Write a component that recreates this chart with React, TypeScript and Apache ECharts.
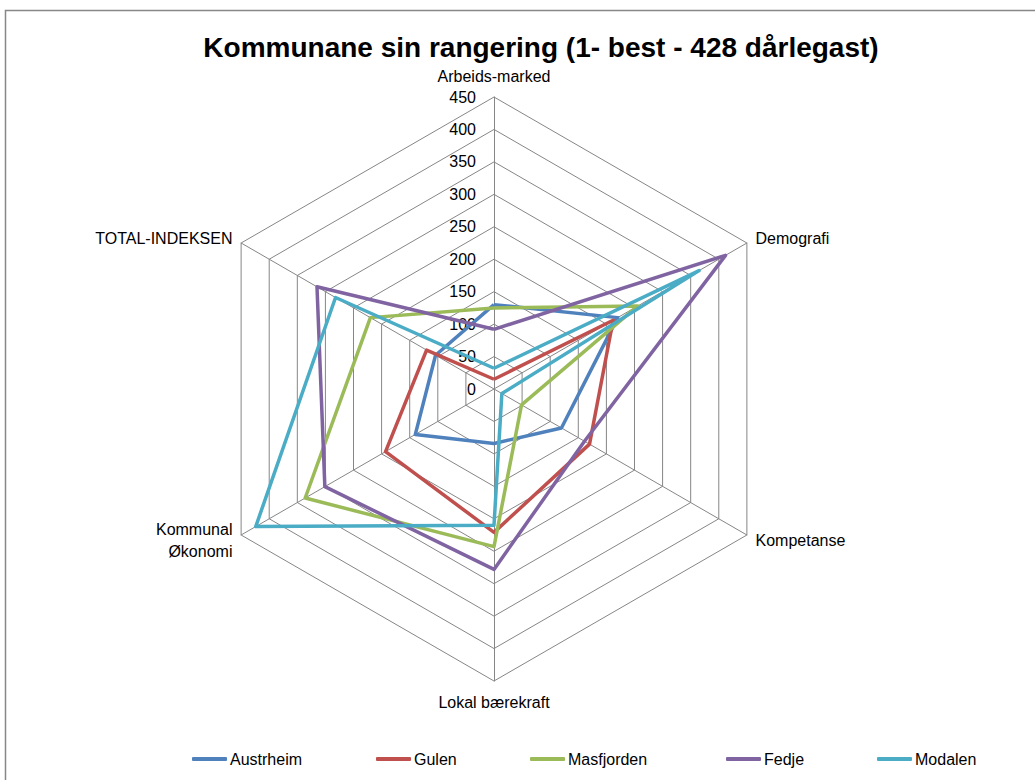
import React, { useEffect, useRef } from "react";
import * as echarts from "echarts";

// Reference (clockwise from top) order of the axes
const indicators = [
  "Arbeids-marked",
  "Demografi",
  "Kompetanse",
  "Lokal bærekraft",
  "Kommunal\nØkonomi",
  "TOTAL-INDEKSEN",
];
const axisMax = 450;
const splitCount = 9;

const seriesNames = ["Austrheim", "Gulen", "Masfjorden", "Fedje", "Modalen"];
const austrheim = [130, 220, 120, 84, 140, 104];
const gulen = [15, 212, 170, 221, 193, 120];
const masfjorden = [125, 256, 49, 243, 336, 220];
const fedje = [92, 412, 161, 278, 301, 315];
const modalen = [32, 365, 14, 210, 424, 282];
const seriesValues = [austrheim, gulen, masfjorden, fedje, modalen];
const colors = ["#4F81BD", "#C0504D", "#9BBB59", "#8064A2", "#4BACC6"];
const legendLefts = [192, 376, 530, 726, 877];

// ECharts lays radar indicators out counter-clockwise; map to that order
const ccwOrder = [0, 5, 4, 3, 2, 1];

const FONT = "'Liberation Sans', Arial, sans-serif";

export default function App() {
  const ref = useRef<HTMLDivElement>(null);
  useEffect(() => {
    if (!ref.current) return;
    const chart = echarts.init(ref.current, null, { renderer: "svg" });
    const indicator = ccwOrder.map((i, k) => {
      const o: any = { name: indicators[i], min: 0, max: axisMax };
      if (k === 0) {
        o.axisLabel = {
          show: true,
          color: "#000",
          fontSize: 16,
          fontFamily: FONT,
          margin: 18,
          showMinLabel: true,
          showMaxLabel: true,
        };
      }
      return o;
    });
    const option: any = {
      animation: false,
      backgroundColor: "#fff",
      graphic: [
        {
          type: "rect",
          z: -10,
          shape: { x: 5.5, y: 10.5, width: 1200, height: 1200 },
          style: { fill: "transparent", stroke: "#878787", lineWidth: 1.5 },
          silent: true,
        },
        {
          type: "text",
          x: 541,
          y: 47,
          style: {
            text: "Kommunane sin rangering (1- best - 428 dårlegast)",
            font: `bold 28px ${FONT}`,
            fill: "#000",
            textAlign: "center",
            textVerticalAlign: "middle",
          },
        },
      ],
      legend: seriesNames.map((n, i) => ({
        data: [n],
        left: legendLefts[i],
        top: 751,
        padding: 0,
        icon: "roundRect",
        itemWidth: 35,
        itemHeight: 4,
        selectedMode: false,
        textStyle: { color: "#000", fontSize: 16, fontFamily: FONT, padding: [0, 0, 0, -2] },
      })),
      radar: {
        center: [494, 389],
        radius: 292,
        shape: "polygon",
        splitNumber: splitCount,
        startAngle: 90,
        nameGap: 10,
        axisName: { color: "#000", fontSize: 16, fontFamily: FONT, lineHeight: 22 },
        axisLine: { lineStyle: { color: "#868686", width: 1 } },
        splitLine: { lineStyle: { color: "#868686", width: 1 } },
        splitArea: { show: false },
        axisTick: { show: false },
        axisLabel: { show: false },
        indicator,
      },
      series: [
        {
          type: "radar",
          symbol: "none",
          data: seriesNames.map((n, i) => ({
            name: n,
            value: ccwOrder.map((j) => seriesValues[i][j]),
            itemStyle: { color: colors[i] },
            lineStyle: { color: colors[i], width: 3.5 },
          })),
        },
      ],
    };
    chart.setOption(option);
    return () => chart.dispose();
  }, []);
  return (
    <div
      ref={ref}
      style={{ position: "absolute", left: 0, top: 0, width: 1035, height: 780 }}
    />
  );
}
